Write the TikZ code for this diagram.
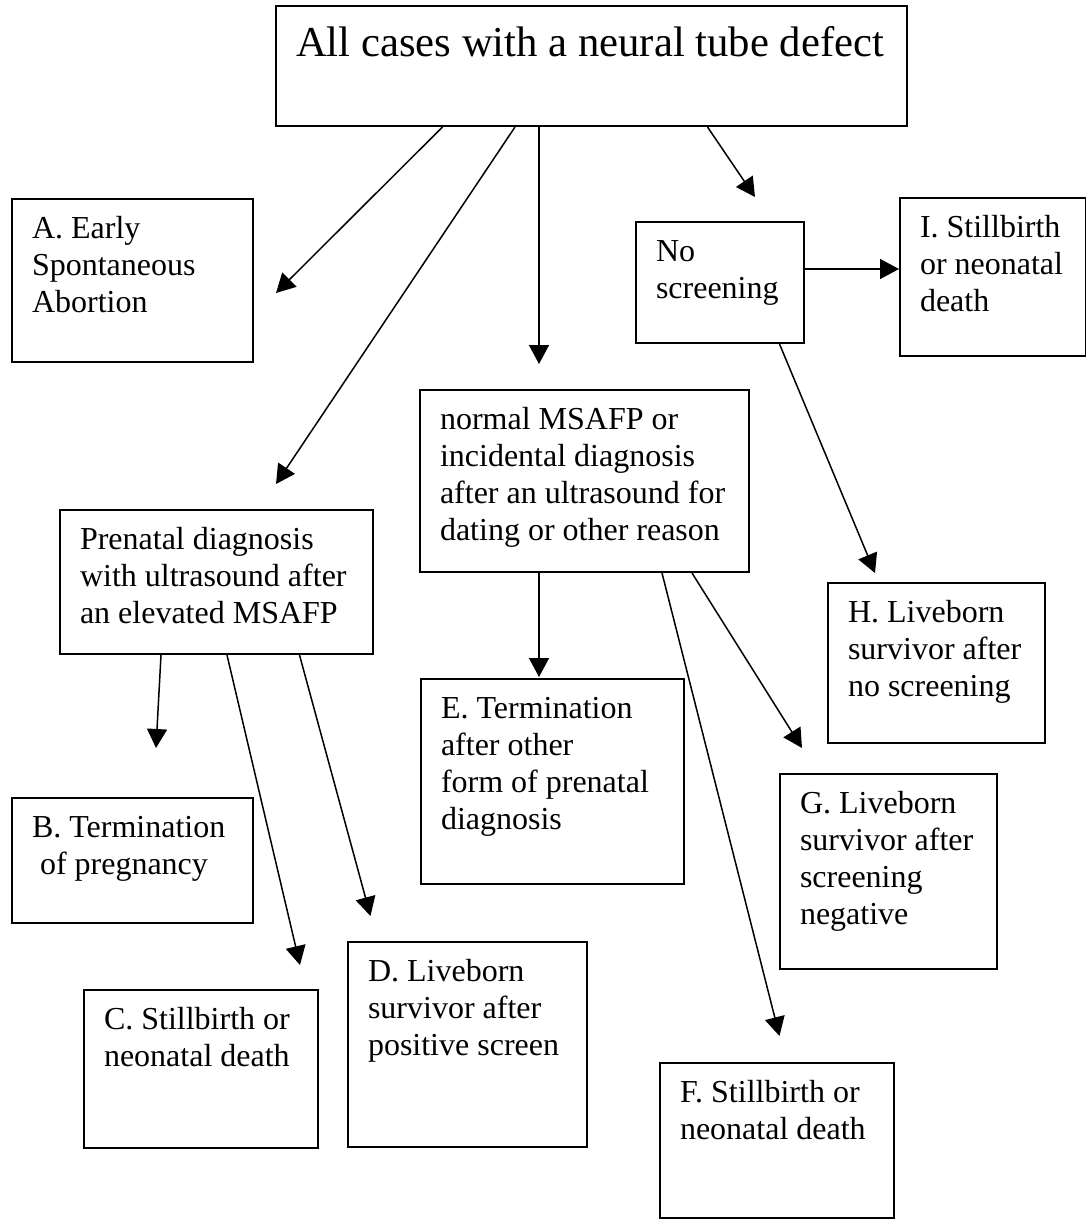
\documentclass[tikz,border=0pt]{standalone}
\usepackage{fontspec}
\setmainfont{Liberation Serif}
\usetikzlibrary{arrows.meta}

\begin{document}
\begin{tikzpicture}[x=1pt, y=-1pt, every node/.style={font=\fontsize{32}{37}\selectfont},
    box/.style 2 args={draw, line width=2pt, anchor=north west, align=flush left, inner xsep=20pt,
      inner ysep=0pt, text width=#1pt, text height=39pt, text depth=#2pt},
    arr/.style={-{Triangle[length=19pt,width=20pt]}, line width=1.5pt}]
  \useasboundingbox (0,0) rectangle (1086,1219);

  \node[box={591}{70}, text height=50pt, font=\fontsize{42.7}{49}\selectfont] (all) at (275,5)
    {All cases with a neural tube defect};

  \node[box={201}{124}] (abort) at (11,198) {A. Early\\Spontaneous\\Abortion};
  \node[box={128}{82}] (noscr) at (635,221) {No\\screening};
  \node[box={146}{119}] (stillI) at (899,197) {I. Stillbirth\\or neonatal\\death};
  \node[box={289}{143}] (normal) at (419,389)
    {normal MSAFP or\\incidental diagnosis\\after an ultrasound for\\dating or other reason};
  \node[box={273}{105}] (prenat) at (59,509)
    {Prenatal diagnosis\\with ultrasound after\\an elevated MSAFP};
  \node[box={177}{121}] (liveH) at (827,582) {H. Liveborn\\survivor after\\no screening};
  \node[box={223}{166}] (termE) at (420,678) {E. Termination\\after other\\form of prenatal\\diagnosis};
  \node[box={177}{156}] (liveG) at (779,773) {G. Liveborn\\survivor after\\screening\\negative};
  \node[box={201}{86}] (termB) at (11,797) {B. Termination\\\hspace*{.25em}of pregnancy};
  \node[box={199}{166}] (liveD) at (347,941) {D. Liveborn\\survivor after\\positive screen};
  \node[box={194}{119}] (stillC) at (83,989) {C. Stillbirth or\\neonatal death};
  \node[box={194}{116}] (stillF) at (659,1062) {F. Stillbirth or\\neonatal death};

  \coordinate (endA) at (276,293);
  \coordinate (endPre) at (276,484);
  \coordinate (endNorm) at (539,364);
  \coordinate (endNo) at (755,197);
  \coordinate (endI) at (899,269);
  \coordinate (endH) at (875,573);
  \coordinate (endB) at (156,748);
  \coordinate (endC) at (300,965);
  \coordinate (endD) at (370.5,916);
  \coordinate (endE) at (539,677);
  \coordinate (endF) at (779.5,1036);
  \coordinate (endG) at (802,748);

  \foreach \src/\dx/\dst in {all/167.5/endA, all/240/endPre, all/264/endNorm, all/432.5/endNo,
      noscr/144.5/endH, prenat/102/endB, prenat/168/endC, prenat/240.5/endD,
      normal/120/endE, normal/243/endF, normal/273/endG}
    \draw[arr] ([xshift=\dx pt]\src.south west) -- (\dst);
  \draw[arr] ([yshift=-48pt]noscr.north east) -- (endI);
\end{tikzpicture}
\end{document}
